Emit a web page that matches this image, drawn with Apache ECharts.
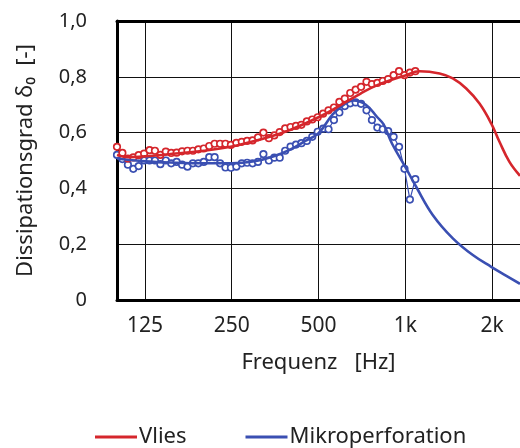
<!DOCTYPE html>
<html>
<head>
<meta charset="utf-8">
<script src="https://cdn.jsdelivr.net/npm/echarts@6/dist/echarts.min.js"></script>
<style>html,body{margin:0;padding:0;background:#fff}#c{width:520px;height:448px}</style>
</head>
<body>
<div id="c"></div>
<script>
var freqMeas = [100,104.4,109.1,113.9,118.9,124.2,129.7,135.4,141.4,147.7,154.2,161.0,168.2,175.6,183.4,191.5,200,208.9,218.1,227.8,237.8,248.4,259.4,270.9,282.8,295.3,308.4,322.0,336.4,351.3,366.8,383.1,400,417.7,436.2,455.5,475.7,496.7,518.7,541.7,565.7,590.7,616.9,644.2,672.7,702.5,733.6,766.1,800,835.4,872.4,911.1,951.4,993.6,1037.5,1083.5];
var vliesMeas = [0.549,0.527,0.507,0.511,0.519,0.525,0.537,0.535,0.520,0.532,0.527,0.528,0.533,0.535,0.535,0.540,0.543,0.552,0.560,0.560,0.560,0.556,0.563,0.567,0.570,0.572,0.583,0.600,0.580,0.590,0.602,0.615,0.620,0.624,0.628,0.640,0.647,0.655,0.668,0.680,0.690,0.710,0.722,0.742,0.754,0.764,0.782,0.774,0.778,0.785,0.792,0.806,0.820,0.806,0.815,0.820];
var mikroMeas = [0.520,0.505,0.485,0.470,0.480,0.500,0.500,0.500,0.487,0.500,0.490,0.495,0.485,0.478,0.490,0.490,0.495,0.512,0.512,0.490,0.475,0.474,0.478,0.490,0.492,0.490,0.495,0.523,0.500,0.510,0.510,0.535,0.550,0.557,0.562,0.570,0.585,0.603,0.614,0.612,0.645,0.672,0.695,0.705,0.708,0.703,0.680,0.645,0.618,0.612,0.605,0.585,0.549,0.470,0.360,0.433];
// fitted curves
var freqVliesFit = [100,110,125,160,200,250,300,350,400,500,600,700,800,1000,1121,1315,1462,1627,1809,1986,2122,2298,2500];
var vliesFit = [0.520,0.512,0.515,0.525,0.535,0.550,0.570,0.590,0.610,0.655,0.700,0.740,0.770,0.805,0.820,0.812,0.794,0.758,0.704,0.633,0.567,0.495,0.445];
var freqMikroFit = [100,125,160,200,250,300,350,400,450,500,560,620,660,730,800,840,900,1000,1092,1247,1462,1715,1986,2250,2500];
var mikroFit = [0.507,0.497,0.492,0.490,0.490,0.497,0.515,0.540,0.570,0.598,0.665,0.705,0.715,0.700,0.655,0.630,0.560,0.477,0.405,0.304,0.221,0.161,0.119,0.086,0.058];
var xTicks = [125,250,500,1000,2000];
var xTickLabels = ['125','250','500','1k','2k'];
var yTicks = [0,0.2,0.4,0.6,0.8,1.0];
var yTickLabels = ['0','0,2','0,4','0,6','0,8','1,0'];

var RED = '#d5262c', BLUE = '#3a4fb2';
function pairs(xs, ys){ return xs.map(function(x,i){ return [x, ys[i]]; }); }

var chart = echarts.init(document.getElementById('c'), null, {renderer:'canvas'});
var FONT = 'Noto Sans';
chart.setOption({
  animation:false,
  backgroundColor:'#fff',
  textStyle:{fontFamily:FONT},
  grid:{left:117, top:21, right:0, bottom:148, containLabel:false},
  legend:{
    data:[{name:'Vlies', icon:'rect'},{name:'Mikroperforation', icon:'rect'}],
    left:90, top:421, itemWidth:42, itemHeight:3, itemGap:59,
    textStyle:{fontFamily:FONT, fontSize:22, color:'#222', padding:[0,0,0,-3]}
  },
  xAxis:[{
    type:'log', logBase:2, min:100, max:2500,
    name:'Frequenz   [Hz]', nameLocation:'middle', nameGap:52,
    nameTextStyle:{fontFamily:FONT, fontSize:22, color:'#222'},
    axisLine:{show:true, lineStyle:{color:'#000', width:3}},
    axisTick:{show:false, customValues:xTicks},
    axisLabel:{customValues:xTicks, margin:16, fontSize:21, color:'#222', fontFamily:FONT,
      formatter:function(v){ var i=xTicks.indexOf(Math.round(v)); return i>=0?xTickLabels[i]:''; }},
    splitLine:{show:true, lineStyle:{color:'#111', width:1}},
    minorTick:{show:false}, minorSplitLine:{show:false}
  },{
    type:'log', logBase:2, min:100, max:2500, position:'top',
    axisLine:{show:true, onZero:false, lineStyle:{color:'#000', width:3}},
    axisTick:{show:false}, axisLabel:{show:false}, splitLine:{show:false}
  }],
  yAxis:{
    type:'value', min:0, max:1, interval:0.2,
    name:'Dissipationsgrad δ₀  [-]', nameLocation:'middle', nameGap:80, nameRotate:90,
    nameTextStyle:{fontFamily:FONT, fontSize:22, color:'#222'},
    axisLine:{show:true, lineStyle:{color:'#000', width:3}},
    axisTick:{show:false},
    axisLabel:{margin:30, fontSize:20, color:'#222', fontFamily:FONT,
      formatter:function(v){ var i=yTicks.findIndex(function(t){return Math.abs(t-v)<1e-6;}); return i>=0?yTickLabels[i]:''; }},
    splitLine:{show:true, lineStyle:{color:'#111', width:1}}
  },
  series:[
    {name:'Mikroperforation (Messung)', type:'line', data:pairs(freqMeas, mikroMeas),
     symbol:'circle', symbolSize:6.5, showSymbol:true,
     itemStyle:{color:'#fff', borderColor:BLUE, borderWidth:1.7},
     lineStyle:{color:BLUE, width:1.2}, z:2},
    {name:'Vlies (Messung)', type:'line', data:pairs(freqMeas, vliesMeas),
     symbol:'circle', symbolSize:6.5, showSymbol:true,
     itemStyle:{color:'#fff', borderColor:RED, borderWidth:1.7},
     lineStyle:{color:RED, width:1.2}, z:2},
    {name:'Mikroperforation', type:'line', data:pairs(freqMikroFit, mikroFit),
     smooth:0.4, showSymbol:false, symbol:'none', color:BLUE,
     lineStyle:{color:BLUE, width:2.6}, z:3},
    {name:'Vlies', type:'line', data:pairs(freqVliesFit, vliesFit),
     smooth:0.4, showSymbol:false, symbol:'none', color:RED,
     lineStyle:{color:RED, width:2.6}, z:3}
  ]
});
</script>
</body>
</html>
